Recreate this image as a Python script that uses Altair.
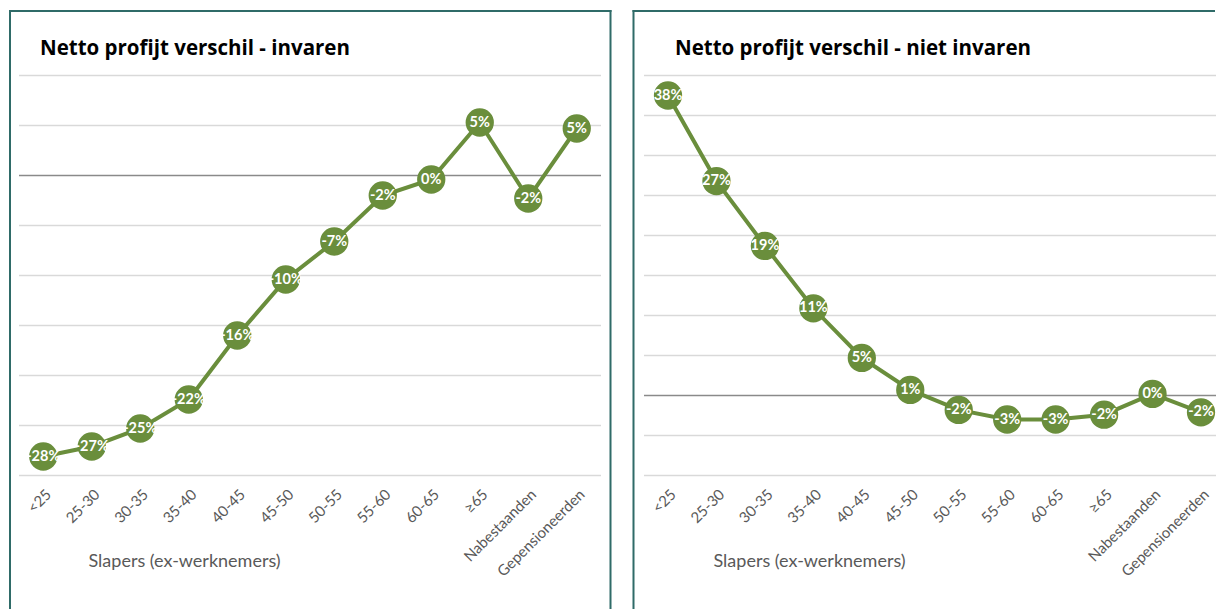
import altair as alt
import pandas as pd

categories = ["<25", "25-30", "30-35", "35-40", "40-45", "45-50", "50-55",
              "55-60", "60-65", "≥65", "Nabestaanden", "Gepensioneerden"]

invaren_values = [-0.281, -0.271, -0.253, -0.224, -0.160, -0.104, -0.066,
                  -0.020, -0.004, 0.053, -0.023, 0.047]
invaren_labels = ["-28%", "-27%", "-25%", "-22%", "-16%", "-10%", "-7%",
                  "-2%", "0%", "5%", "-2%", "5%"]

niet_values = [0.375, 0.268, 0.187, 0.109, 0.047, 0.007, -0.018,
               -0.030, -0.030, -0.024, 0.002, -0.021]
niet_labels = ["38%", "27%", "19%", "11%", "5%", "1%", "-2%",
               "-3%", "-3%", "-2%", "0%", "-2%"]

invaren_grid = [-0.30, -0.25, -0.20, -0.15, -0.10, -0.05, 0.05, 0.10]
niet_grid = [-0.10, -0.05, 0.05, 0.10, 0.15, 0.20, 0.25, 0.30, 0.35, 0.40]

GREEN = "#6a8e3c"
BORDER = "#2f6b68"
GRID = "#d9d9d9"
ZERO = "#8a8a8a"
LABEL = "#595959"
FONT = "Lato"
TITLE_FONT = "Open Sans"

PLOT_H = 400
TOP = -64.5
BOTTOM = PLOT_H + 150


def one():
    return alt.Chart(alt.Data(values=[{"b": 1}]))


def vrule(x0):
    return one().mark_rule(color=BORDER, strokeWidth=2, strokeCap="square").encode(
        x=alt.value(x0), y=alt.value(TOP), y2=alt.value(BOTTOM))


def hrule(x0, x1):
    return one().mark_rule(color=BORDER, strokeWidth=2, strokeCap="square").encode(
        x=alt.value(x0), x2=alt.value(x1), y=alt.value(TOP))


def panel(values, labels, title, domain, grid_values, width, title_dx,
          borders, x_range=None):
    df = pd.DataFrame({"categorie": categories, "waarde": values, "label": labels})
    yscale = alt.Scale(domain=domain, nice=False, zero=False)
    if x_range is not None:
        xscale = alt.Scale(range=x_range, padding=0)
    else:
        xscale = alt.Scale(padding=0.5)
    x = alt.X(
        "categorie:N", sort=categories, scale=xscale,
        axis=alt.Axis(
            title="Slapers (ex-werknemers)", labelAngle=-45, domain=False,
            ticks=False, grid=False, labelColor=LABEL, labelFontSize=15,
            labelFont=FONT, labelPadding=11, titleX=69, titleY=86,
            titleAlign="left", titleBaseline="middle", titleFontSize=18,
            titleFontWeight="normal", titleColor=LABEL, titleFont=FONT,
        ),
    )
    y = alt.Y("waarde:Q", scale=yscale, axis=None)
    base = alt.Chart(df).encode(x=x, y=y)

    grid = alt.Chart(pd.DataFrame({"g": grid_values})).mark_rule(
        color=GRID, strokeWidth=1.5
    ).encode(y=alt.Y("g:Q", scale=yscale, axis=None))
    zero = alt.Chart(pd.DataFrame({"z": [0.0]})).mark_rule(
        color=ZERO, strokeWidth=1.5
    ).encode(y=alt.Y("z:Q", scale=yscale, axis=None))

    heading = one().mark_text(
        font=TITLE_FONT, fontSize=20.5, fontWeight="bold", color="black",
        align="left", baseline="alphabetic", text=title,
    ).encode(x=alt.value(title_dx), y=alt.value(-21))

    line = base.mark_line(color=GREEN, strokeWidth=4)
    dots = base.mark_circle(color=GREEN, size=800, opacity=1)
    text = base.mark_text(color="white", fontWeight="bold", fontSize=14.5,
                          font=FONT, baseline="middle", align="center"
                          ).encode(text="label:N")

    return alt.layer(*borders, grid, zero, heading, line, dots, text).properties(
        width=width, height=PLOT_H,
    )


LEFT_W = 582
RIGHT_W = 572

left = panel(invaren_values, invaren_labels, "Netto profijt verschil - invaren",
             [-0.30, 0.10], invaren_grid, LEFT_W, 21,
             [vrule(-9), hrule(-9, 591.5), vrule(591.5)])

right = panel(niet_values, niet_labels, "Netto profijt verschil - niet invaren",
              [-0.10, 0.40], niet_grid, RIGHT_W, 31,
              [vrule(-10.5), hrule(-10.5, RIGHT_W - 2)], x_range=[24, 557])

chart = alt.hconcat(left, right, spacing=20).properties(
    padding={"left": 0, "top": 1.5, "right": 0, "bottom": 0}
).configure(font=FONT).configure_view(stroke="transparent", strokeWidth=0)

chart.save("out.html", embed_options={"renderer": "svg", "actions": False})
